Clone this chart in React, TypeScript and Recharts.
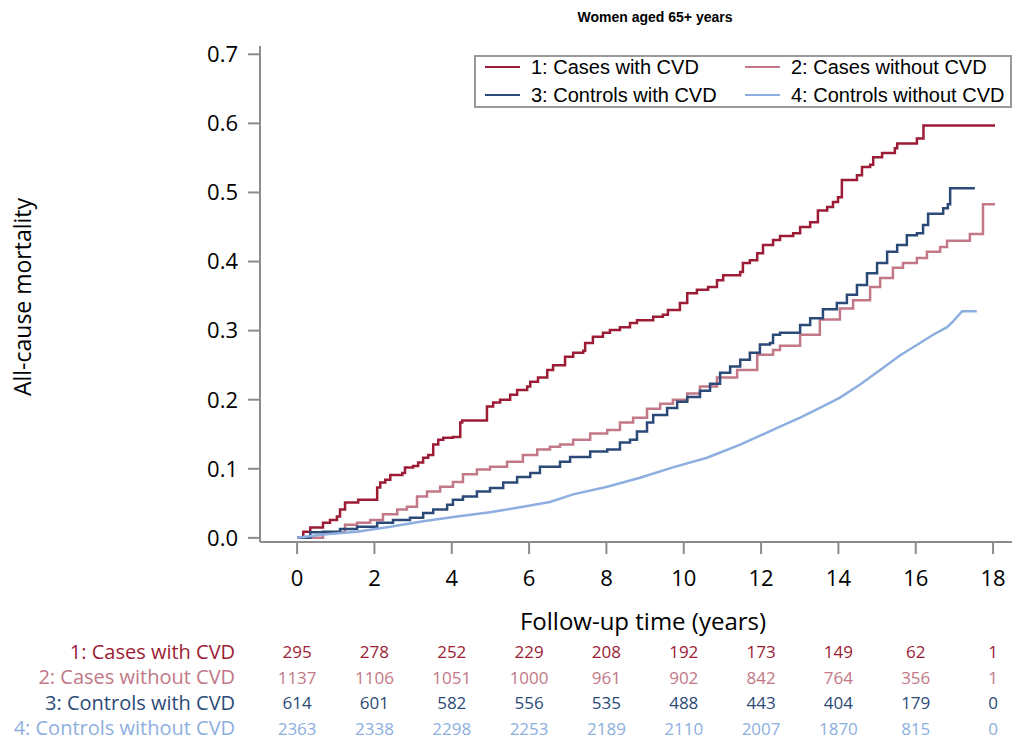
import React from "react";
import { LineChart, Line, XAxis, YAxis, Legend, Label } from "recharts";

// Kaplan-Meier style cumulative mortality, [years, mortality]
const casesWithCvd: [number, number][] = [
  [0, 0], [0.16, 0.009], [0.34, 0.015], [0.67, 0.022], [0.85, 0.026], [1.03, 0.031],
  [1.11, 0.041], [1.24, 0.051], [1.58, 0.055], [2.07, 0.073], [2.15, 0.08], [2.28, 0.084],
  [2.41, 0.091], [2.72, 0.094], [2.79, 0.102], [3.0, 0.104], [3.13, 0.109], [3.26, 0.116],
  [3.39, 0.12], [3.52, 0.135], [3.65, 0.142], [3.78, 0.145], [4.03, 0.146], [4.22, 0.167],
  [4.27, 0.17], [4.91, 0.19], [5.07, 0.196], [5.25, 0.2], [5.51, 0.207], [5.69, 0.214],
  [5.95, 0.219], [6.03, 0.226], [6.23, 0.232], [6.47, 0.243], [6.62, 0.25], [6.93, 0.262],
  [7.14, 0.268], [7.4, 0.271], [7.45, 0.282], [7.65, 0.291], [7.91, 0.297], [8.09, 0.301],
  [8.35, 0.305], [8.61, 0.311], [8.79, 0.315], [9.21, 0.32], [9.46, 0.323], [9.59, 0.33],
  [9.9, 0.34], [10.09, 0.354], [10.34, 0.359], [10.63, 0.363], [10.86, 0.373], [11.02, 0.38],
  [11.46, 0.385], [11.53, 0.398], [11.71, 0.402], [11.9, 0.412], [12.05, 0.424], [12.31, 0.431],
  [12.49, 0.437], [12.83, 0.441], [13.01, 0.45], [13.27, 0.457], [13.47, 0.474], [13.71, 0.479],
  [13.86, 0.486], [13.99, 0.493], [14.09, 0.518], [14.48, 0.525], [14.61, 0.537], [14.82, 0.54],
  [14.9, 0.551], [15.13, 0.557], [15.46, 0.564], [15.52, 0.571], [16.03, 0.578], [16.2, 0.597],
  [18.05, 0.597],
];

const casesWithoutCvd: [number, number][] = [
  [0, 0], [0.67, 0.008], [1.24, 0.019], [1.55, 0.022], [1.89, 0.026], [2.22, 0.034],
  [2.59, 0.041], [2.84, 0.045], [3.1, 0.06], [3.36, 0.067], [3.7, 0.074], [4.03, 0.081],
  [4.29, 0.092], [4.65, 0.099], [4.99, 0.103], [5.43, 0.11], [5.84, 0.12], [6.21, 0.128],
  [6.54, 0.132], [6.8, 0.135], [7.14, 0.142], [7.58, 0.151], [8.02, 0.156], [8.35, 0.167],
  [8.69, 0.174], [9.05, 0.187], [9.39, 0.194], [9.72, 0.2], [10.09, 0.209], [10.42, 0.219],
  [10.86, 0.232], [11.38, 0.243], [11.9, 0.265], [12.31, 0.272], [12.49, 0.278], [13.01, 0.294],
  [13.52, 0.316], [14.04, 0.332], [14.38, 0.344], [14.82, 0.363], [15.08, 0.376], [15.41, 0.391],
  [15.67, 0.398], [16.03, 0.405], [16.29, 0.414], [16.63, 0.421], [16.81, 0.43], [17.4, 0.44],
  [17.74, 0.483], [18.05, 0.483],
];

const controlsWithCvd: [number, number][] = [
  [0, 0], [0.34, 0.008], [0.67, 0.009], [1.11, 0.013], [1.55, 0.016], [2.07, 0.022],
  [2.48, 0.026], [2.92, 0.029], [3.26, 0.036], [3.52, 0.041], [3.88, 0.048], [4.03, 0.055],
  [4.29, 0.06], [4.65, 0.067], [4.99, 0.072], [5.33, 0.08], [5.69, 0.088], [6.03, 0.094],
  [6.28, 0.103], [6.8, 0.11], [7.06, 0.117], [7.58, 0.125], [8.02, 0.128], [8.35, 0.138],
  [8.61, 0.142], [8.79, 0.154], [9.05, 0.167], [9.21, 0.178], [9.57, 0.188], [9.83, 0.197],
  [10.09, 0.204], [10.42, 0.213], [10.68, 0.223], [10.94, 0.239], [11.2, 0.248], [11.46, 0.258],
  [11.71, 0.268], [11.97, 0.28], [12.23, 0.282], [12.31, 0.294], [12.49, 0.297], [13.01, 0.308],
  [13.27, 0.318], [13.6, 0.331], [13.96, 0.34], [14.22, 0.352], [14.48, 0.366], [14.74, 0.383],
  [15.0, 0.398], [15.26, 0.414], [15.52, 0.424], [15.77, 0.438], [16.03, 0.441], [16.19, 0.453],
  [16.32, 0.469], [16.71, 0.477], [16.83, 0.483], [16.89, 0.506], [17.53, 0.506],
];

const controlsWithoutCvd: [number, number][] = [
  [0, 0], [0.67, 0.005], [1.55, 0.009], [2.41, 0.016], [3.26, 0.024], [4.14, 0.031],
  [4.99, 0.037], [5.84, 0.045], [6.54, 0.052], [7.14, 0.063], [8.02, 0.074], [8.87, 0.087],
  [9.72, 0.102], [10.6, 0.116], [11.46, 0.135], [12.49, 0.161], [13.01, 0.174], [13.52, 0.188],
  [14.04, 0.203], [14.56, 0.222], [15.08, 0.243], [15.59, 0.264], [16.11, 0.282], [16.45, 0.294],
  [16.81, 0.305], [16.96, 0.313], [17.2, 0.328], [17.58, 0.328],
];

// numbers at risk
const riskTimes = [0, 2, 4, 6, 8, 10, 12, 14, 16, 18];
const riskCasesCvd = [295, 278, 252, 229, 208, 192, 173, 149, 62, 1];
const riskCasesNoCvd = [1137, 1106, 1051, 1000, 961, 902, 842, 764, 356, 1];
const riskControlsCvd = [614, 601, 582, 556, 535, 488, 443, 404, 179, 0];
const riskControlsNoCvd = [2363, 2338, 2298, 2253, 2189, 2110, 2007, 1870, 815, 0];

const yTicks = [0, 0.1, 0.2, 0.3, 0.4, 0.5, 0.6, 0.7];

const series = [
  { name: "1: Cases with CVD", color: "#9c1c35", data: casesWithCvd, risk: riskCasesCvd, type: "stepAfter" },
  { name: "2: Cases without CVD", color: "#c27886", data: casesWithoutCvd, risk: riskCasesNoCvd, type: "stepAfter" },
  { name: "3: Controls with CVD", color: "#2b4a78", data: controlsWithCvd, risk: riskControlsCvd, type: "stepAfter" },
  { name: "4: Controls without CVD", color: "#8dafe0", data: controlsWithoutCvd, risk: riskControlsNoCvd, type: "linear" },
];

const AXIS = "#8c8c8c";
const FONT = "'Open Sans', sans-serif";

const XTick = (props: any) => {
  const { x, y, payload } = props;
  const i = riskTimes.indexOf(payload.value);
  return (
    <g>
      <text x={x} y={y + 32} textAnchor="middle" fontSize={22} fontFamily={FONT} fill="#000">
        {payload.value}
      </text>
      {series.map((s, k) => (
        <text key={k} x={x} y={y + 104 + k * 25.5} textAnchor="middle" fontSize={17} fontFamily={FONT} fill={s.color}>
          {s.risk[i]}
        </text>
      ))}
      {i === 0 &&
        series.map((s, k) => (
          <text key={"l" + k} x={x - 62} y={y + 104.5 + k * 25.5} textAnchor="end" fontSize={20} fontFamily={FONT} fill={s.color}>
            {s.name}
          </text>
        ))}
    </g>
  );
};

const LegendBox = () => (
  <div
    style={{
      width: 538,
      height: 53,
      border: "2px solid #9a9a9a",
      background: "#fff",
      fontFamily: "'Liberation Sans', Arial, sans-serif",
      fontSize: 20,
      display: "grid",
      gridTemplateColumns: "260px 274px",
      alignContent: "center",
      rowGap: 2,
      boxSizing: "border-box",
      paddingBottom: 1,
    }}
  >
    {series.map((s) => (
      <div key={s.name} style={{ display: "flex", alignItems: "center", height: 26, color: "#000", whiteSpace: "nowrap" }}>
        <span style={{ display: "inline-block", width: 35, height: 2.5, background: s.color, marginLeft: 9, marginRight: 11 }} />
        {s.name}
      </div>
    ))}
  </div>
);

const YLabel = (props: any) => {
  const { viewBox } = props;
  const cx = 22;
  const cy = viewBox.y + viewBox.height / 2 + 3;
  return (
    <text x={cx} y={cy} transform={`rotate(-90 ${cx} ${cy})`} textAnchor="middle" dominantBaseline="central" fontSize={23} fontFamily={FONT} fill="#000">
      All-cause mortality
    </text>
  );
};

export default function App() {
  return (
    <div style={{ position: "absolute", left: 0, top: 0, width: 1019, height: 740, background: "#fff" }}>
      <div
        style={{
          position: "absolute",
          left: 0,
          width: 1019,
          top: 9,
          textAlign: "center",
          paddingLeft: 291,
          boxSizing: "border-box",
          fontFamily: "'Liberation Sans', Arial, sans-serif",
          fontWeight: "bold",
          fontSize: 14,
        }}
      >
        Women aged 65+ years
      </div>
      <LineChart width={1019} height={740} margin={{ top: 46, right: 7, left: 180, bottom: 8 }}>
        <XAxis
          type="number"
          dataKey="t"
          domain={[-0.96, 18.49]}
          ticks={riskTimes}
          allowDataOverflow
          height={190}
          stroke={AXIS}
          strokeWidth={2}
          tickSize={12}
          tickMargin={0}
          tick={<XTick />}
          interval={0}
        >
          <Label
            value="Follow-up time (years)"
            position="insideTop"
            offset={71}
            dx={7}
            style={{ fontSize: 24, fontFamily: FONT, fill: "#000" }}
          />
        </XAxis>
        <YAxis
          type="number"
          domain={[-0.006, 0.712]}
          ticks={yTicks}
          allowDataOverflow
          width={80}
          stroke={AXIS}
          strokeWidth={2}
          tickSize={12}
          tickMargin={10}
          tickFormatter={(v: number) => v.toFixed(1)}
          tick={{ fontSize: 22, fontFamily: FONT, fill: "#000" }}
        >
          <Label content={<YLabel />} />
        </YAxis>
        <Legend
          verticalAlign="middle"
          align="center"
          layout="horizontal"
          content={<LegendBox />}
          wrapperStyle={{ left: 474, top: 55, width: 538, height: 53 }}
        />
        {series.map((s) => (
          <Line
            key={s.name}
            name={s.name}
            data={s.data.map(([t, v]) => ({ t, v }))}
            dataKey="v"
            type={s.type as any}
            stroke={s.color}
            strokeWidth={2.5}
            dot={false}
            isAnimationActive={false}
          />
        ))}
      </LineChart>
    </div>
  );
}
